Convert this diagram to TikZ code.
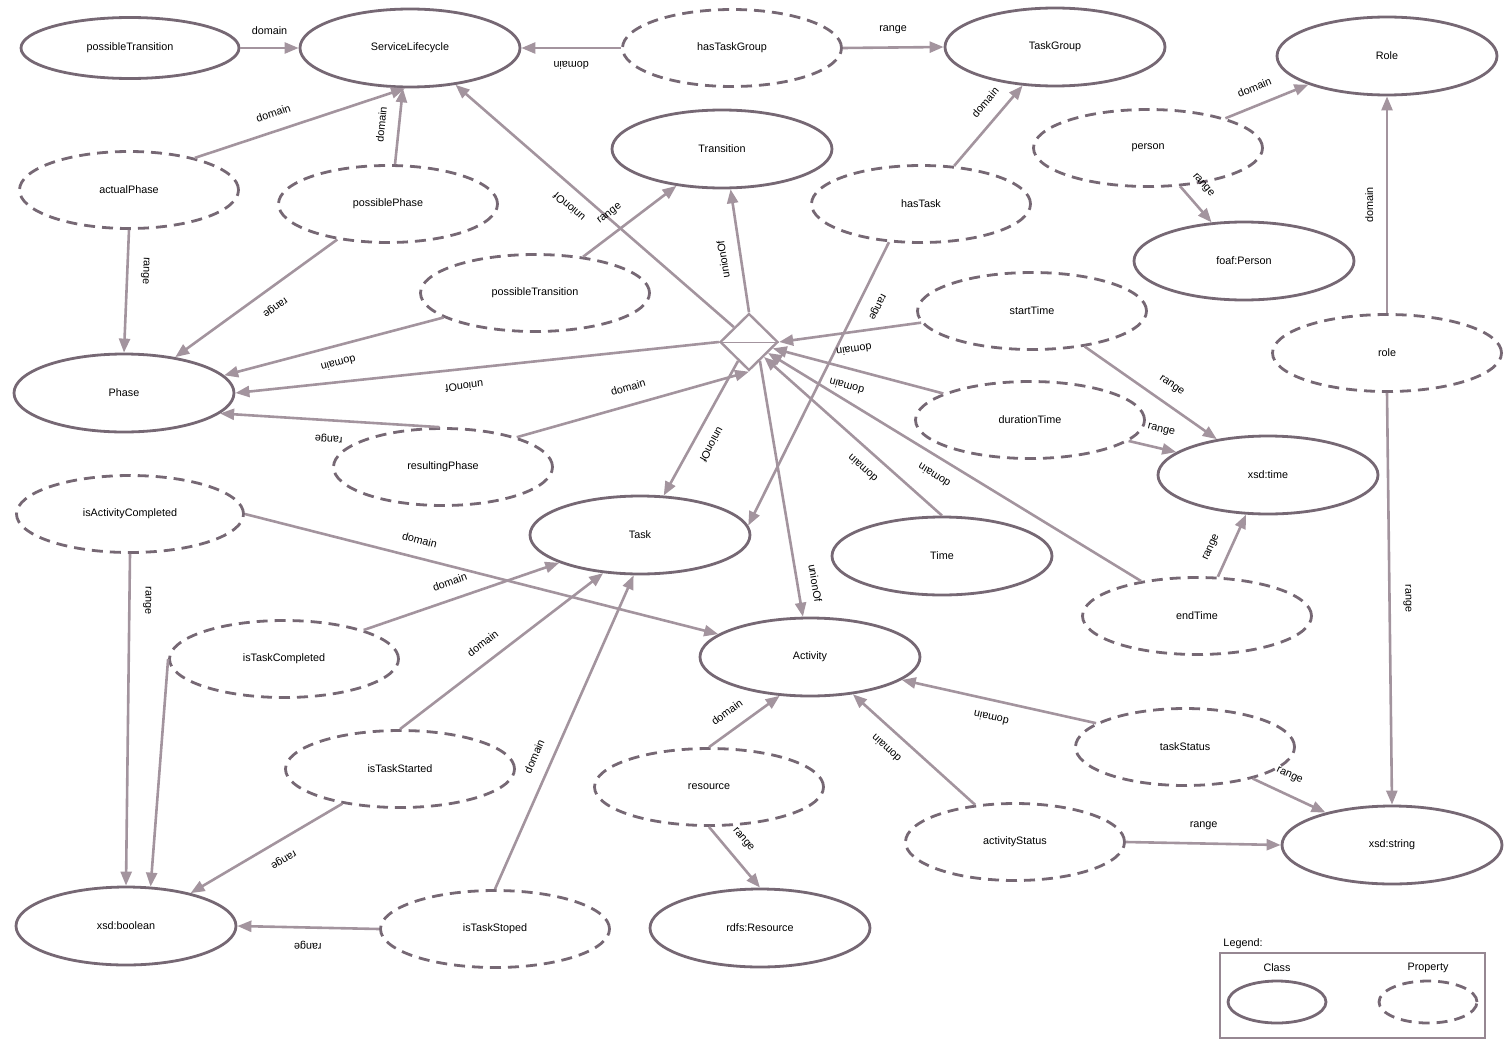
\documentclass[tikz,border=0pt]{standalone}
\usepackage{fontspec}
\setmainfont{Liberation Sans}
\usetikzlibrary{shapes.geometric,arrows.meta}
\definecolor{classgray}{RGB}{118,104,116}
\definecolor{arrowgray}{RGB}{163,148,158}
\definecolor{boxgray}{RGB}{150,135,146}
\tikzset{
  classnode/.style={ellipse, draw=classgray, line width=2.8pt, minimum width=220pt, minimum height=78pt, inner sep=0pt, font=\fontsize{10.8}{13}\selectfont},
  propnode/.style={classnode, minimum width=229pt, minimum height=77pt, dash pattern=on 11pt off 7pt},
  unionnode/.style={diamond, draw=arrowgray, line width=2.4pt, fill=white, minimum width=58pt, minimum height=57pt, inner sep=0pt},
  relarrow/.style={draw=arrowgray, line width=2.6pt, -{Triangle[length=14pt,width=11pt]}},
  rellabel/.style={sloped, allow upside down, above=11pt, inner sep=1.5pt, font=\fontsize{10.8}{13}\selectfont}
}
\begin{document}
\begin{tikzpicture}[x=1pt, y=-1pt]
  \useasboundingbox (0,0) rectangle (1507,1041);
  % classes
  \node[classnode, minimum width=218pt, minimum height=61pt] (ptc) at (130,48) {possibleTransition};
  \node[classnode] (slc) at (410,48) {ServiceLifecycle};
  \node[classnode] (tgr) at (1055,47) {TaskGroup};
  \node[classnode] (rolec) at (1387,56) {Role};
  \node[classnode] (trn) at (722,149) {Transition};
  \node[classnode] (fper) at (1244,261) {foaf:Person};
  \node[classnode] (phs) at (124,393) {Phase};
  \node[classnode] (xtm) at (1268,475) {xsd:time};
  \node[classnode] (tsk) at (640,535) {Task};
  \node[classnode] (tim) at (942,556) {Time};
  \node[classnode] (act) at (810,657) {Activity};
  \node[classnode] (xst) at (1392,845) {xsd:string};
  \node[classnode] (xbo) at (126,926) {xsd:boolean};
  \node[classnode] (rres) at (760,928) {rdfs:Resource};
  % properties
  \node[propnode, minimum width=219pt] (htg) at (732,48) {hasTaskGroup};
  \node[propnode, minimum width=219pt] (acp) at (129,190) {actualPhase};
  \node[propnode, minimum width=219pt] (psp) at (388,204) {possiblePhase};
  \node[propnode] (per) at (1148,148) {person};
  \node[propnode, minimum width=219pt] (htk) at (921,204) {hasTask};
  \node[propnode] (ptp) at (535,293) {possibleTransition};
  \node[propnode] (stt) at (1032,311) {startTime};
  \node[propnode] (rolep) at (1387,353) {role};
  \node[propnode] (dur) at (1030,420) {durationTime};
  \node[propnode, minimum width=219pt] (rsp) at (443,467) {resultingPhase};
  \node[propnode, minimum width=227pt] (iac) at (130,514) {isActivityCompleted};
  \node[propnode] (ent) at (1197,616) {endTime};
  \node[propnode] (itc) at (284,659) {isTaskCompleted};
  \node[propnode] (its) at (400,769) {isTaskStarted};
  \node[propnode] (res) at (709,787) {resource};
  \node[propnode, minimum width=219pt] (tst) at (1185,747) {taskStatus};
  \node[propnode, minimum width=219pt] (ast) at (1015,842) {activityStatus};
  \node[propnode] (itp) at (495,929) {isTaskStoped};
  % union
  \node[unionnode] (uni) at (749,342) {};
  \draw[arrowgray, line width=1pt] (uni.west) -- (uni.east);

  \draw[relarrow] (ptc.east) -- node[rellabel] {domain} (slc.west);
  \draw[relarrow] (htg.west) -- node[rellabel] {domain} (slc.east);
  \draw[relarrow] (htg.east) -- node[rellabel] {range} (tgr.west);
  \draw[relarrow] (acp.26) -- node[rellabel, pos=.4] {domain} (slc.263);
  \draw[relarrow] (psp.80) -- node[rellabel] {domain} (slc.260);
  \draw[relarrow] (uni.north west) -- node[rellabel, pos=.55] {unionOf} (slc.321);
  \draw[relarrow] (ptp.37) -- node[rellabel, pos=.4] {range} (trn.219);
  \draw[relarrow] (uni.north) -- node[rellabel, pos=.45] {unionOf} (trn.282);
  \draw[relarrow] (acp.south) -- node[rellabel, pos=.33] {range} (phs.north);
  \draw[relarrow] (psp.215) -- node[rellabel, pos=.45] {range} (phs.35);
  \draw[relarrow] (ptp.195) -- node[rellabel] {domain} (phs.10);
  \draw[relarrow] (uni.west) -- node[rellabel, pos=.53] {unionOf} (phs.east);
  \draw[relarrow] (rsp.95) -- node[rellabel] {range} (phs.348);
  \draw[relarrow] (rsp.22) -- node[rellabel] {domain} (uni.south);
  \draw[relarrow] (uni.-120) -- node[rellabel, pos=.56] {unionOf} (tsk.59);
  \draw[relarrow] (uni.-60) -- node[rellabel, pos=.88] {unionOf} (act.100);
  \draw[relarrow] (htk.230) -- node[rellabel, pos=.2] {range} (tsk.5);
  \draw[relarrow] (htk.49) -- node[rellabel, pos=.65] {domain} (tgr.230);
  \draw[relarrow] (per.21) -- node[rellabel, pos=.43] {domain} (rolec.200);
  \draw[relarrow] (per.310) -- node[rellabel, pos=.3] {range} (fper.130);
  \draw[relarrow] (rolep.north) -- node[rellabel] {domain} (rolec.south);
  \draw[relarrow] (rolep.south) -- node[rellabel] {range} (xst.north);
  \draw[relarrow] (stt.186) -- node[rellabel, pos=.49] {domain} (uni.east);
  \draw[relarrow] (stt.326) -- node[rellabel, pos=.58] {range} (xtm.145);
  \draw[relarrow] (dur.163) -- node[rellabel, pos=.54] {domain} (uni.-15);
  \draw[relarrow] (dur.348) -- node[rellabel, pos=.6] {range} (xtm.166);
  \draw[relarrow] (tim.north) -- node[rellabel, pos=.38] {domain} (uni.-45);
  \draw[relarrow] (ent.148) -- node[rellabel, pos=.53] {domain} (uni.-30);
  \draw[relarrow] (ent.62) -- node[rellabel, pos=.35] {range} (xtm.241);
  \draw[relarrow] (iac.east) -- node[rellabel, pos=.36] {domain} (act.166);
  \draw[relarrow] (iac.south) -- node[rellabel, pos=.14] {range} (xbo.north);
  \draw[relarrow] (itc.20) -- node[rellabel, pos=.47] {domain} (tsk.199);
  \draw[relarrow] (itc.west) -- (xbo.58);
  \draw[relarrow] (its.north) -- node[rellabel, pos=.46] {domain} (tsk.226);
  \draw[relarrow] (its.211) -- node[rellabel, pos=.45] {range} (xbo.27);
  \draw[relarrow] (itp.north) -- node[rellabel, pos=.4] {domain} (tsk.261);
  \draw[relarrow] (itp.west) -- node[rellabel] {range} (xbo.east);
  \draw[relarrow] (res.north) -- node[rellabel, pos=.4] {domain} (act.232);
  \draw[relarrow] (res.south) -- node[rellabel, pos=.4] {range} (rres.north);
  \draw[relarrow] (tst.165) -- node[rellabel, pos=.52] {domain} (act.346);
  \draw[relarrow] (tst.335) -- node[rellabel, pos=.4] {range} (xst.154);
  \draw[relarrow] (ast.137) -- node[rellabel, pos=.63] {domain} (act.319);
  \draw[relarrow] (ast.east) -- node[rellabel] {range} (xst.west);

  % legend
  \node[font=\fontsize{10.8}{13}\selectfont] (lgtitle) at (1243,944) {Legend:};
  \node[draw=boxgray, line width=2.4pt, minimum width=265pt, minimum height=85pt, inner sep=0pt] (lgbox) at (1352.5,995.5) {};
  \node[font=\fontsize{10.8}{13}\selectfont] (lgcls) at (1277,968) {Class};
  \node[classnode, minimum width=98pt, minimum height=42pt] (lgce) at (1277,1002) {};
  \node[font=\fontsize{10.8}{13}\selectfont] (lgprop) at (1428,968) {Property};
  \node[propnode, minimum width=98pt, minimum height=42pt] (lgpe) at (1428,1002) {};
\end{tikzpicture}
\end{document}
